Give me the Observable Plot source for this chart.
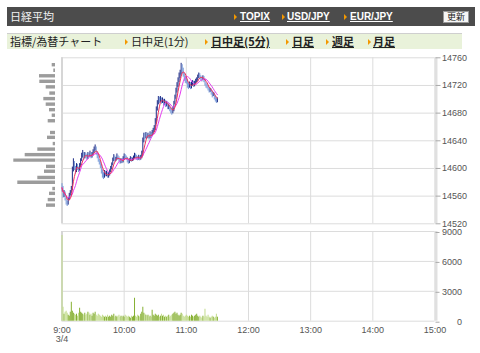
<!DOCTYPE html>
<html><head><meta charset="utf-8">
<script src="https://cdn.jsdelivr.net/npm/d3@7"></script>
<script src="https://cdn.jsdelivr.net/npm/@observablehq/plot@0.6"></script>
<style>
body{margin:0;background:#fff;width:480px;height:353px;overflow:hidden;position:relative;font-family:"Noto Sans CJK JP","Liberation Sans",sans-serif;}
.abs{position:absolute;}
#hdr{left:7px;top:7px;width:468px;height:19px;background:#4c4c4c;}
.ht{color:#f2f2f2;font-size:11px;line-height:19px;top:7px;white-space:nowrap;}
.lk{color:#fff;font-size:10px;font-weight:bold;text-decoration:underline;line-height:19px;top:7px;font-family:"Liberation Sans",sans-serif;}
.tri{width:0;height:0;border-left:3px solid #f39800;border-top:3px solid transparent;border-bottom:3px solid transparent;}
#btn{left:443px;top:11px;width:24px;height:10px;background:#f6f6f6;border:1px solid #999;font-size:9px;line-height:10px;text-align:center;color:#222;}
#tabs{left:7px;top:33px;width:455px;height:15px;background:#e9f2da;border-top:1px solid #cfcfcf;}
.tt{font-size:11px;line-height:16px;top:33px;color:#222;white-space:nowrap;}
.tb{font-weight:bold;text-decoration:underline;}
svg{position:absolute;left:0;}
</style></head><body>
<div id="hdr" class="abs"></div>
<div class="abs ht" style="left:10px">日経平均</div>
<div class="abs tri" style="left:234px;top:14px"></div><div class="abs lk" style="left:240px">TOPIX</div>
<div class="abs tri" style="left:282px;top:14px"></div><div class="abs lk" style="left:287px">USD/JPY</div>
<div class="abs tri" style="left:344px;top:14px"></div><div class="abs lk" style="left:350px">EUR/JPY</div>
<div id="btn" class="abs">更新</div>
<div id="tabs" class="abs"></div>
<div class="abs tt" style="left:10px">指標/為替チャート</div>
<div class="abs tri" style="left:125px;top:39px"></div><div class="abs tt" style="left:131px">日中足(1分)</div>
<div class="abs tri" style="left:205px;top:39px"></div><div class="abs tt tb" style="left:211px">日中足(5分)</div>
<div class="abs tri" style="left:286px;top:39px"></div><div class="abs tt tb" style="left:292px">日足</div>
<div class="abs tri" style="left:326px;top:39px"></div><div class="abs tt tb" style="left:332px">週足</div>
<div class="abs tri" style="left:368px;top:39px"></div><div class="abs tt tb" style="left:373px">月足</div>
<div id="c"></div>
<script>
// 1-minute data from 9:00 (minute 0) to 11:30 (minute 150)
const closes = [
14572,14560,14565,14555,14550,14548,14556,14562,14566,14570,
14598,14608,14600,14596,14604,14600,14598,14604,14612,14618,
14622,14616,14620,14618,14615,14620,14618,14622,14617,14620,
14625,14628,14630,14622,14618,14612,14608,14604,14596,14592,
14588,14594,14590,14593,14588,14591,14595,14600,14606,14612,
14616,14612,14614,14618,14615,14612,14609,14612,14610,14614,
14618,14617,14614,14611,14609,14612,14614,14612,14613,14616,
14619,14617,14615,14614,14616,14614,14616,14620,14640,14648,
14646,14649,14646,14648,14645,14650,14648,14652,14655,14658,
14668,14685,14695,14700,14698,14701,14696,14699,14694,14697,
14692,14694,14688,14690,14686,14682,14681,14684,14694,14702,
14712,14720,14728,14734,14738,14746,14744,14736,14730,14728,
14726,14720,14718,14722,14717,14722,14724,14720,14723,14726,
14728,14733,14735,14732,14730,14728,14732,14728,14722,14720,
14718,14716,14712,14714,14710,14706,14708,14703,14700,14698,
14699];
const highs = [
14578,14574,14568,14566,14557,14553,14558,14564,14568,14574,
14602,14614,14610,14603,14607,14606,14602,14607,14614,14622,
14626,14623,14623,14622,14620,14623,14622,14625,14623,14623,
14627,14631,14634,14631,14624,14620,14613,14610,14606,14598,
14594,14597,14596,14596,14594,14594,14598,14603,14608,14615,
14620,14618,14616,14621,14619,14617,14614,14614,14614,14617,
14621,14620,14618,14616,14613,14614,14617,14616,14615,14618,
14622,14621,14619,14617,14619,14618,14619,14625,14644,14651,
14651,14652,14650,14651,14649,14653,14652,14655,14658,14662,
14672,14689,14698,14704,14703,14704,14702,14702,14700,14700,
14698,14697,14695,14693,14691,14688,14685,14688,14697,14706,
14716,14724,14731,14738,14742,14752,14750,14745,14738,14733,
14731,14728,14723,14725,14724,14725,14727,14726,14726,14729,
14731,14735,14738,14737,14734,14732,14734,14733,14729,14724,
14722,14720,14717,14716,14715,14712,14710,14709,14705,14702,
14702];
const lows = [
14566,14557,14558,14553,14547,14545,14547,14554,14560,14564,
14568,14595,14597,14592,14594,14597,14594,14596,14602,14610,
14615,14612,14614,14614,14612,14613,14615,14616,14614,14615,
14618,14622,14625,14619,14614,14609,14605,14600,14592,14586,
14584,14586,14588,14588,14586,14586,14589,14594,14598,14604,
14610,14609,14610,14612,14612,14609,14606,14607,14607,14608,
14612,14614,14612,14608,14606,14607,14610,14609,14610,14611,
14614,14614,14612,14611,14612,14611,14612,14614,14618,14637,
14642,14643,14643,14643,14641,14643,14644,14646,14650,14652,
14655,14665,14683,14692,14694,14695,14693,14694,14690,14691,
14688,14689,14685,14685,14682,14679,14677,14679,14682,14692,
14700,14709,14717,14724,14730,14735,14738,14732,14726,14723,
14722,14716,14714,14716,14714,14715,14719,14717,14718,14721,
14724,14726,14730,14729,14727,14725,14727,14724,14719,14716,
14715,14712,14709,14710,14706,14702,14704,14699,14696,14694,
14695];
const firstOpen = 14575;
const volumes = [
8600,1400,700,900,1000,800,600,500,900,1900,
1000,800,700,600,700,500,800,1300,900,800,
700,600,800,600,700,900,800,600,700,500,
800,700,900,600,500,700,600,500,400,600,
500,400,500,400,600,400,500,400,600,500,
700,400,500,400,500,600,400,500,400,500,
400,600,500,400,500,400,300,500,400,500,
2300,500,400,600,500,400,700,900,1400,800,
700,600,500,600,400,500,400,1100,600,500,
700,600,500,600,400,500,700,500,600,400,
500,400,500,600,400,500,600,700,800,900,
700,800,600,500,600,800,700,500,400,500,
600,500,400,500,400,600,500,400,500,600,
700,500,400,500,400,300,500,400,1200,500,
400,600,400,300,400,500,400,300,400,700,
400];
// volume-at-price histogram (left)
const histPrices = [14750,14742,14734,14726,14718,14709,14701,14693,14685,14677,14669,14661,14652,14645,14636,14628,14620,14612,14603,14596,14587,14580,14571,14564,14555,14547];
const histVolumes = [3.3,1.7,16,15.7,9.3,5.7,11.7,9.3,6,3.3,7.3,0,5,8,2.3,17.7,30.3,41.7,9,11,17.7,37.7,2.7,6,7.3,9];
const priceTicks = [14520,14560,14600,14640,14680,14720,14760];
const volumeTicks = [0,3000,6000,9000];
const hourLabels = ["9:00","10:00","11:00","12:00","13:00","14:00","15:00"];
const dateLabel = "3/4";

const T = (h, m) => new Date(Date.UTC(2014, 2, 4, h, m));
const hourTicks = hourLabels.map(s => { const [h, m] = s.split(":").map(Number); return T(h, m); });
const bars = closes.map((c, i) => ({
  t: T(9, i), c, h: highs[i], l: lows[i], o: i === 0 ? firstOpen : closes[i - 1], v: volumes[i]
}));
const xDomain = [hourTicks[0], hourTicks[hourTicks.length - 1]];
const up = "#1d2b86", down = "#7598d8";
const grid = "#dcdcdc";

const price = Plot.plot({
  width: 480, height: 230,
  marginTop: 57.3, marginBottom: 6.7, marginLeft: 61.5, marginRight: 45.5,
  x: {type: "utc", domain: xDomain, axis: null},
  y: {domain: [14520, 14760], axis: null},
  style: {fontFamily: "Liberation Sans, sans-serif"},
  marks: [
    Plot.gridY(priceTicks, {stroke: grid, strokeOpacity: 1}),
    Plot.gridX(hourTicks, {stroke: grid, strokeOpacity: 1}),
    Plot.ruleX([xDomain[0]], {stroke: "#d6d6d6", strokeWidth: 2}),
    Plot.ruleX([xDomain[1]], {stroke: "#e0e0e0", strokeWidth: 3, dx: 1}),
    Plot.ruleX(bars, {x: "t", y1: "l", y2: "h", stroke: d => d.c >= d.o ? up : down, strokeWidth: 1}),
    Plot.lineY(bars, Plot.windowY({k: 10, anchor: "end"}, {x: "t", y: "c", stroke: "#e43cf0", strokeWidth: 1})),
    Plot.lineY(bars, Plot.windowY({k: 5, anchor: "end"}, {x: "t", y: "c", stroke: "#f0305a", strokeWidth: 1})),
    Plot.axisY(priceTicks, {anchor: "right", label: null, tickSize: 5, tickPadding: 2, fontSize: 9, color: "#555", stroke: "#aaa", tickFormat: d => String(d)})
  ]
});
price.style.top = "0px";

const hist = Plot.plot({
  width: 60, height: 230,
  marginTop: 57.3, marginBottom: 6.7, marginLeft: 13, marginRight: 5,
  x: {domain: [0, 42], reverse: true, axis: null},
  y: {domain: [14520, 14760], axis: null},
  marks: [
    Plot.ruleY(histPrices.map((p, i) => ({p, w: histVolumes[i]})).filter(d => d.w > 0),
      {y: "p", x1: 0, x2: "w", stroke: "#9c9c9c", strokeWidth: 3.4})
  ]
});
hist.style.top = "0px";

const vol = Plot.plot({
  width: 480, height: 125,
  marginTop: 6, marginBottom: 29.3, marginLeft: 61.5, marginRight: 45.5,
  x: {type: "utc", domain: xDomain},
  y: {domain: [0, 9000], axis: null},
  style: {fontFamily: "Liberation Sans, sans-serif"},
  marks: [
    Plot.gridY(volumeTicks, {stroke: grid, strokeOpacity: 1}),
    Plot.gridX(hourTicks, {stroke: grid, strokeOpacity: 1}),
    Plot.ruleX([xDomain[0]], {stroke: "#d6d6d6", strokeWidth: 2}),
    Plot.ruleX([xDomain[1]], {stroke: "#e0e0e0", strokeWidth: 3, dx: 1}),
    Plot.ruleX(bars, {x: "t", y1: 0, y2: "v", stroke: d => d.c >= d.o ? "#86b032" : "#c2dc8c", strokeWidth: 1}),
    Plot.axisY(volumeTicks, {anchor: "right", label: null, tickSize: 4, tickPadding: 23, textAnchor: "end", fontSize: 9, color: "#555", stroke: "#aaa", tickFormat: d => String(d), dy: 1}),
    Plot.axisX(hourTicks, {label: null, tickSize: 0, tickPadding: 5, fontSize: 9, color: "#555",
      tickFormat: (d, i) => hourLabels[i] + (i === 0 ? "\n" + dateLabel : "")})
  ]
});
vol.style.top = "225px";

const c = document.getElementById("c");
c.appendChild(price); c.appendChild(vol); c.appendChild(hist);
</script>
</body></html>
